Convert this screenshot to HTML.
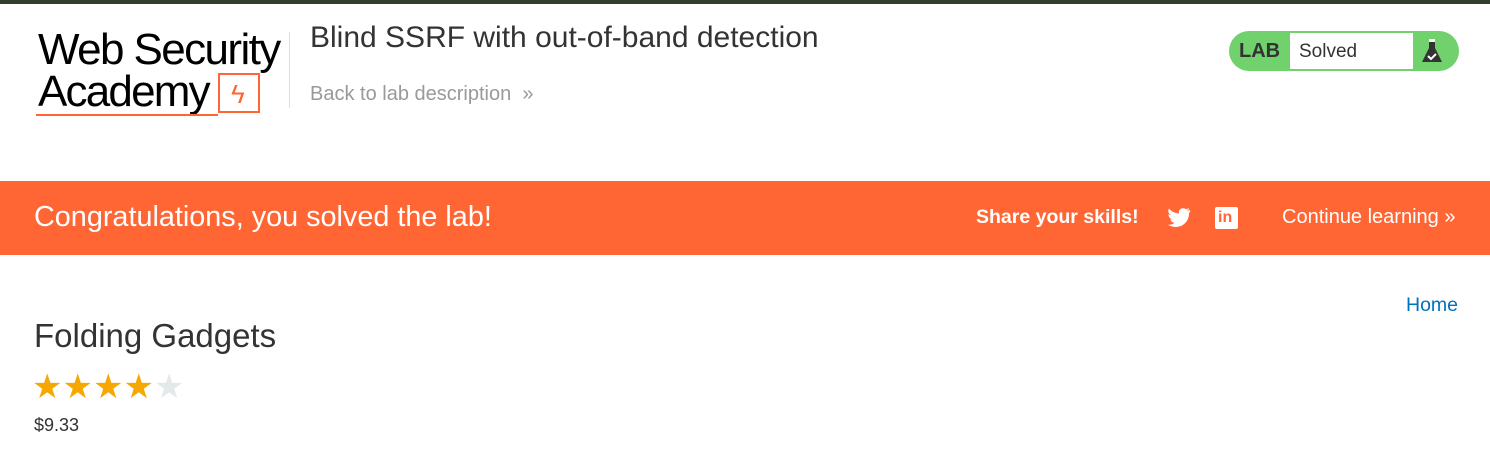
<!DOCTYPE html>
<html><head><meta charset="utf-8"><style>
*{box-sizing:border-box;margin:0;padding:0}
body{width:1490px;height:453px;background:#fff;font-family:"Liberation Sans",Arial,sans-serif;position:relative;overflow:hidden;color:#333}
.abs{position:absolute}
</style></head><body>
<div class="abs" style="left:0;top:0;width:1490px;height:4px;background:#333d2e"></div>
<div class="abs" style="left:36px;top:28px;width:250px;height:92px">
 <div class="abs" style="left:2px;top:0;font-size:44px;letter-spacing:-1.6px;color:#000;line-height:44px;white-space:nowrap">Web Security</div>
 <div class="abs" style="left:2px;top:42px;font-size:44px;letter-spacing:-1.8px;color:#000;line-height:44px">Academy</div>
 <div class="abs" style="left:182px;top:45px;width:42px;height:40px;border:2px solid #ff6633"></div>
 <div class="abs" style="left:195px;top:52px;font-size:26px;color:#ff6633;line-height:28px">ϟ</div>
 <div class="abs" style="left:0;top:86px;width:182px;height:2px;background:#ff6633"></div>
</div>
<div class="abs" style="left:289px;top:32px;width:1px;height:76px;background:#ddd"></div>
<div class="abs" style="left:310px;top:21px;font-size:30px;color:#333">Blind SSRF with out-of-band detection</div>
<div class="abs" style="left:310px;top:83px;font-size:20px;color:#999">Back to lab description &nbsp;<span style="font-size:20px">»</span></div>
<div class="abs" style="left:1229px;top:31px;width:230px;height:40px;border-radius:20px;background:#70d16d">
 <div class="abs" style="left:10px;top:9px;font-size:20px;font-weight:bold;color:#333">LAB</div>
 <div class="abs" style="left:61px;top:2px;width:123px;height:36px;background:#fff;font-size:19px;padding:8px 0 0 9px;color:#333">Solved</div>
 <svg class="abs" style="left:191px;top:7px" width="24" height="26" viewBox="0 0 24 26"><rect x="9" y="1" width="6" height="3" fill="#fff"/><path d="M9 4h6v6l7 14H2l7-14z" fill="#333"/><path d="M8 18l3 3 5-5" stroke="#fff" stroke-width="2" fill="none"/></svg>
</div>
<div class="abs" style="left:0;top:181px;width:1490px;height:74px;background:#ff6633;color:#fff">
 <div class="abs" style="left:34px;top:20px;font-size:28.8px">Congratulations, you solved the lab!</div>
 <div class="abs" style="left:976px;top:25px;font-size:19.5px;font-weight:bold">Share your skills!</div>
 <svg class="abs" style="left:1167px;top:27px" width="24" height="20" viewBox="0 0 24 20"><path d="M23 2c-1 .5-2 .7-3 .8 1-.6 2-1.6 2-2.8-1 .6-2 1-3 1.2C17 0 15 0 13.5 1 12 2 11.6 4 12 5.5 8 5.3 4.4 3.5 2 .5.7 2.8 1.4 5.7 3.6 7c-.8 0-1.5-.2-2.2-.6 0 2.4 1.7 4.4 4 4.9-.7.2-1.5.2-2.2.1.6 2 2.5 3.4 4.6 3.4C5.8 16.3 3.5 17 1 16.8 3.3 18.3 6 19 8.6 19 17.5 19 22.3 11.6 22 5 23 4.3 23.5 3.3 23 2z" fill="#fff"/></svg>
 <div class="abs" style="left:1215px;top:26px;width:23px;height:22px;background:#fff;border-radius:2px;color:#ff6633;font-weight:bold;font-size:16px;padding:2px 0 0 3px">in</div>
 <div class="abs" style="left:1282px;top:25px;font-size:20px">Continue learning <span>»</span></div>
</div>
<div class="abs" style="left:1406px;top:294px;font-size:19.5px;color:#0071bc">Home</div>
<div class="abs" style="left:34px;top:317px;font-size:33px;color:#333">Folding Gadgets</div>
<div class="abs" style="left:32px;top:368px;font-size:34px;letter-spacing:0px;line-height:38px"><span style="color:#f6a700">★★★★</span><span style="color:#e3e8e8">★</span></div>
<div class="abs" style="left:34px;top:415px;font-size:18px;color:#333">$9.33</div>
</body></html>
